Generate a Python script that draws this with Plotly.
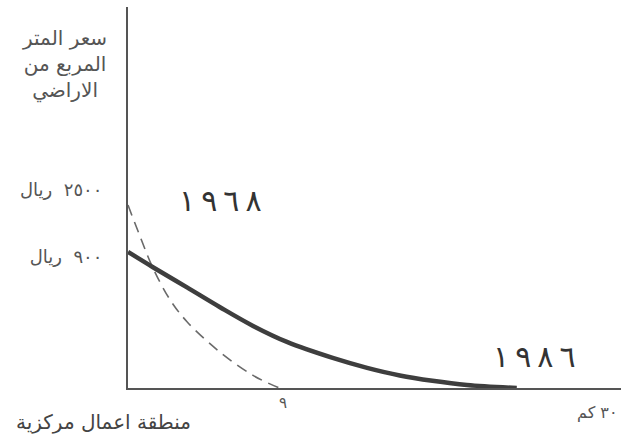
import plotly.graph_objects as go

# Schematic land-price gradient (distance from CBD in km, relative price height)
dist_1968 = [0, 0.70, 1.45, 2.44, 3.43, 5.35, 7.27, 8.8]
price_1968 = [48.0, 39.8, 31.5, 23.2, 17.4, 9.4, 3.3, 0]

dist_1986 = [0, 1.45, 3.43, 5.35, 7.27, 9.24, 11.9, 13.9, 15.8, 17.7, 19.7, 22.6]
price_1986 = [35.7, 31.7, 26.4, 21.2, 16.3, 12.1, 7.9, 5.3, 3.3, 1.9, 0.8, 0]

y_tick_vals = [52.0, 34.4]
y_tick_text = ["٢٥٠٠\u00a0\u00a0ريال", "٩٠٠\u00a0\u00a0ريال"]

x_tick_vals = [9]
x_tick_text = ["٩"]
x_end_label = "٣٠ كم"

y_title = "سعر المتر<br>المربع من<br>الاراضي"
x_origin_label = "منطقة اعمال مركزية"
year_labels = ["١\u2009\u200e٩\u2009\u200e٦\u2009\u200e٨", "١\u2009\u200e٩\u2009\u200e٨\u2009\u200e٦"]

FONT = "DejaVu Sans, Arial, sans-serif"

fig = go.Figure()
fig.add_trace(go.Scatter(
    x=dist_1968, y=price_1968, mode="lines", line_shape="spline",
    line=dict(color="#6a6a6a", width=1.6, dash="11px,7px"),
    showlegend=False, hoverinfo="skip"))
fig.add_trace(go.Scatter(
    x=dist_1986, y=price_1986, mode="lines", line_shape="spline",
    line=dict(color="#3e3e3e", width=4.5),
    showlegend=False, hoverinfo="skip"))

annotations = []
# year labels
annotations.append(dict(x=5.35, y=49.1, xref="x", yref="y", text=year_labels[0],
                        showarrow=False, font=dict(family=FONT, size=30, color="#333")))
annotations.append(dict(x=23.66, y=8.4, xref="x", yref="y", text=year_labels[1],
                        showarrow=False, font=dict(family=FONT, size=30, color="#333")))
# x-axis labels
annotations.append(dict(x=x_tick_vals[0], y=0, xref="x", yref="y", text=x_tick_text[0],
                        showarrow=False, yshift=-15, font=dict(family=FONT, size=15, color="#555")))
annotations.append(dict(x=1, y=0, xref="paper", yref="y", text=x_end_label,
                        showarrow=False, xanchor="right", xshift=-1, yshift=-24,
                        font=dict(family=FONT, size=16, color="#555")))
annotations.append(dict(x=0, y=0, xref="x", yref="y", text=x_origin_label,
                        showarrow=False, xanchor="center", xshift=-25, yshift=-34,
                        font=dict(family=FONT, size=20, color="#444")))
# y-axis title
annotations.append(dict(x=0, y=1, xref="paper", yref="paper", text=y_title,
                        showarrow=False, xanchor="center", yanchor="middle",
                        xshift=-64, yshift=-57, align="center",
                        font=dict(family=FONT, size=20, color="#555")))

fig.update_layout(
    width=621, height=434,
    margin=dict(l=128, r=0, t=7, b=46),
    paper_bgcolor="white", plot_bgcolor="white",
    annotations=annotations,
    xaxis=dict(range=[0, 28.66], showgrid=False, zeroline=False,
               showline=True, linecolor="#555", linewidth=2,
               showticklabels=False, ticks="", automargin=False),
    yaxis=dict(range=[0, 100], showgrid=False, zeroline=False,
               showline=True, linecolor="#555", linewidth=2,
               tickvals=y_tick_vals, ticktext=y_tick_text, ticks="",
               ticklabelstandoff=20, automargin=False,
               tickfont=dict(family=FONT, size=18, color="#555")),
)

fig.write_html("out.html", config={"displayModeBar": False},
               post_script="document.body.style.margin='0';")
